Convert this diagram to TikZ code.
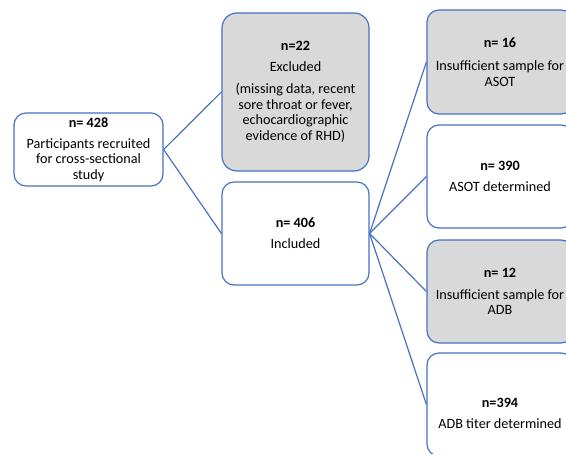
\documentclass[tikz,border=0pt]{standalone}
\usepackage{fontspec}
\setmainfont{Carlito}
\definecolor{boxblue}{HTML}{4472C4}
\definecolor{boxgray}{HTML}{D9D9D9}
\tikzset{
  flowbox/.style={draw=boxblue, line width=1.2pt, rounded corners=12pt, fill=white,
    align=center, inner sep=0pt, font=\fontsize{14.2}{15.5}\selectfont, text=black},
  grayfill/.style={fill=boxgray},
  conn/.style={draw=boxblue, line width=1.2pt},
  txt/.style={align=center, inner sep=0pt, font=\fontsize{14.2}{15.5}\selectfont}
}
\begin{document}
\begin{tikzpicture}[x=1pt,y=-1pt]
\useasboundingbox (0,0) rectangle (566,454);
\clip (0,0) rectangle (566,454);
\node[flowbox, minimum width=149pt, minimum height=73pt] (b428) at (88.5,149.5)
  {\textbf{n= 428}\\[5.5pt]Participants recruited\\for cross-sectional\\study};
\node[flowbox, grayfill, rounded corners=15pt, minimum width=147pt, minimum height=158pt] (b22) at (295.5,92)
  {\textbf{n=22}\\[5.5pt]Excluded\\[6.5pt](missing data, recent\\sore throat or fever,\\echocardiographic\\evidence of RHD)};
\node[flowbox, minimum width=147pt, minimum height=103pt] (b406) at (295.5,233.5)
  {\textbf{n= 406}\\[5.5pt]Included};
\node[flowbox, grayfill, minimum width=146pt, minimum height=104pt] (b16) at (500,62)
  {\textbf{n= 16}\\[8pt]Insufficient sample for\\ASOT};
\node[flowbox, minimum width=146pt, minimum height=103pt] (b390) at (500,176.5)
  {\textbf{n= 390}\\[5.5pt]ASOT determined};
\node[flowbox, grayfill, minimum width=146pt, minimum height=103pt] (b12) at (500,291.5)
  {\textbf{n= 12}\\[6.5pt]Insufficient sample for\\ADB};
\node[flowbox, minimum width=146pt, minimum height=103pt] (b394) at (500,404.5) {};
\node[txt] (t394) at ([yshift=-8.5pt]b394.center) {\textbf{n=394}\\[5.5pt]ADB titer determined};
\draw[conn] (b428.east) -- (b22.west);
\draw[conn] (b428.east) -- (b406.west);
\draw[conn] (b406.east) -- (b16.west);
\draw[conn] (b406.east) -- (b390.west);
\draw[conn] (b406.east) -- (b12.west);
\draw[conn] (b406.east) -- (b394.west);
\end{tikzpicture}
\end{document}
